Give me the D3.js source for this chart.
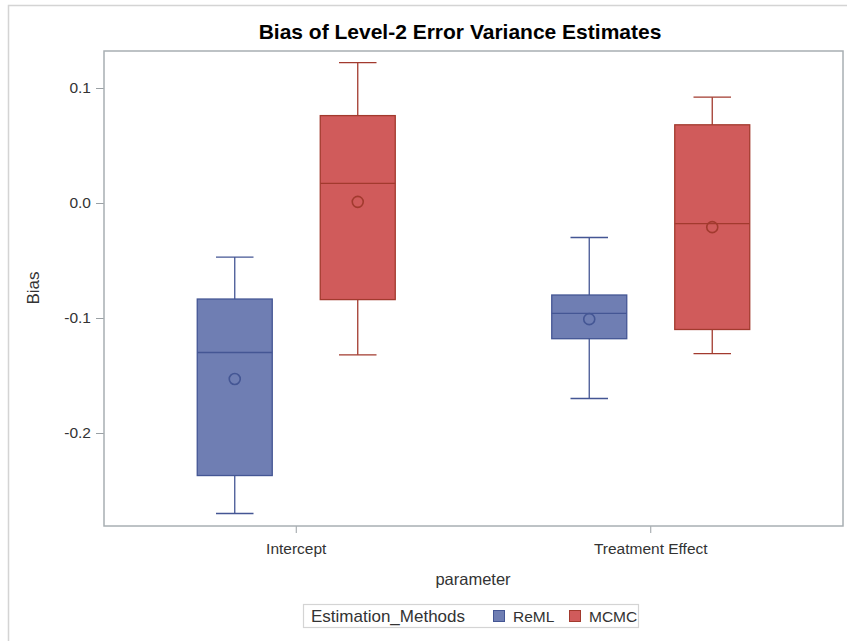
<!DOCTYPE html>
<html>
<head>
<meta charset="utf-8">
<script src="https://cdn.jsdelivr.net/npm/d3@7"></script>
<style>
  body { margin: 0; background: #fff; }
  svg text { font-family: "Liberation Sans", Arial, sans-serif; fill: #333; }
</style>
</head>
<body>
<svg id="chart" width="847" height="641"></svg>
<script>
// --- data ---
const parameters = ['Intercept', 'Treatment Effect'];
const methods = ['ReML', 'MCMC'];
// [parameter, lowWhisker, q1, median, q3, highWhisker, mean]
const reml = [
  ['Intercept', -0.270, -0.237, -0.130, -0.0835, -0.047, -0.153],
  ['Treatment Effect', -0.170, -0.118, -0.096, -0.080, -0.030, -0.101]
];
const mcmc = [
  ['Intercept', -0.132, -0.084, 0.017, 0.076, 0.122, 0.001],
  ['Treatment Effect', -0.131, -0.110, -0.018, 0.068, 0.092, -0.021]
];
const yTicks = [-0.2, -0.1, 0.0, 0.1];

const fills = { ReML: '#6f7eb3', MCMC: '#d05b5b' };
const lines = { ReML: '#445694', MCMC: '#a23a2e' };

const rows = [];
reml.forEach(r => rows.push({ param: r[0], method: 'ReML', lo: r[1], q1: r[2], med: r[3], q3: r[4], hi: r[5], mean: r[6] }));
mcmc.forEach(r => rows.push({ param: r[0], method: 'MCMC', lo: r[1], q1: r[2], med: r[3], q3: r[4], hi: r[5], mean: r[6] }));

const svg = d3.select('#chart');
const plot = { left: 104, right: 843, top: 51, bottom: 526 };

// outer frame
svg.append('path')
  .attr('d', 'M8.5,641 V5.5 H847')
  .attr('fill', 'none').attr('stroke', '#d4d4d4').attr('stroke-width', 1.5);

svg.append('text')
  .attr('x', 460).attr('y', 39)
  .attr('text-anchor', 'middle')
  .style('font-size', '21px').style('font-weight', 'bold').style('fill', '#000')
  .text('Bias of Level-2 Error Variance Estimates');

const y = d3.scaleLinear().domain([-0.2, 0.1]).range([433, 88]);
const x = d3.scaleBand().domain(parameters).range([119, 828]);
const xs = d3.scaleBand().domain(methods).range([-123, 123]);
const boxW = 75;
const cx = d => x(d.param) + x.bandwidth() / 2 + xs(d.method) + xs.bandwidth() / 2;

// axes
const fmt = v => d3.format('.1f')(v).replace('\u2212', '-');
const yAxis = svg.append('g').attr('transform', `translate(${plot.left},0)`)
  .call(d3.axisLeft(y).tickValues(yTicks).tickFormat(fmt).tickSize(8).tickSizeOuter(0));
yAxis.select('.domain').remove();
yAxis.selectAll('line').attr('stroke', '#9aa0a4');
yAxis.selectAll('text').style('font-size', '15.5px').attr('x', -13).attr('fill', '#333');

const xAxis = svg.append('g').attr('transform', `translate(0,${plot.bottom})`)
  .call(d3.axisBottom(x).tickSize(7).tickSizeOuter(0));
xAxis.select('.domain').remove();
xAxis.selectAll('line').attr('stroke', '#9aa0a4');
xAxis.selectAll('text').style('font-size', '15.5px').attr('y', 17).attr('fill', '#333');

svg.append('rect')
  .attr('x', plot.left).attr('y', plot.top)
  .attr('width', plot.right - plot.left).attr('height', plot.bottom - plot.top)
  .attr('fill', 'none').attr('stroke', '#a8afb3').attr('stroke-width', 1.5);

svg.append('text')
  .attr('transform', 'translate(39,288) rotate(-90)')
  .attr('text-anchor', 'middle').style('font-size', '17px')
  .text('Bias');

svg.append('text')
  .attr('x', 473).attr('y', 585)
  .attr('text-anchor', 'middle').style('font-size', '16.5px')
  .text('parameter');

// boxes
const g = svg.append('g').selectAll('g').data(rows).join('g');

g.append('line')
  .attr('x1', cx).attr('x2', cx)
  .attr('y1', d => y(d.hi)).attr('y2', d => y(d.lo))
  .attr('stroke', d => lines[d.method]).attr('stroke-width', 1.3);

g.append('rect')
  .attr('x', d => cx(d) - boxW / 2).attr('width', boxW)
  .attr('y', d => y(d.q3)).attr('height', d => y(d.q1) - y(d.q3))
  .attr('fill', d => fills[d.method])
  .attr('stroke', d => lines[d.method]).attr('stroke-width', 1.3);

['lo', 'hi'].forEach(k => {
  g.append('line')
    .attr('x1', d => cx(d) - boxW / 4).attr('x2', d => cx(d) + boxW / 4)
    .attr('y1', d => y(d[k])).attr('y2', d => y(d[k]))
    .attr('stroke', d => lines[d.method]).attr('stroke-width', 1.3);
});

g.append('line')
  .attr('x1', d => cx(d) - boxW / 2).attr('x2', d => cx(d) + boxW / 2)
  .attr('y1', d => y(d.med)).attr('y2', d => y(d.med))
  .attr('stroke', d => lines[d.method]).attr('stroke-width', 1.3);

g.append('circle')
  .attr('cx', cx).attr('cy', d => y(d.mean)).attr('r', 5.5)
  .attr('fill', 'none')
  .attr('stroke', d => lines[d.method]).attr('stroke-width', 1.6);

// legend
const leg = svg.append('g');
leg.append('rect')
  .attr('x', 303.5).attr('y', 604.5).attr('width', 335).attr('height', 23)
  .attr('fill', '#fff').attr('stroke', '#d4d4d4').attr('stroke-width', 1.2);
leg.append('text').attr('x', 311).attr('y', 622).style('font-size', '17px').text('Estimation_Methods');
const legX = { ReML: 493, MCMC: 569 };
methods.forEach(m => {
  leg.append('rect')
    .attr('x', legX[m] + 0.5).attr('y', 610.5).attr('width', 11).attr('height', 11)
    .attr('fill', fills[m]).attr('stroke', lines[m]);
  leg.append('text').attr('x', legX[m] + 20).attr('y', 622).style('font-size', '15.5px').text(m);
});
</script>
</body>
</html>
